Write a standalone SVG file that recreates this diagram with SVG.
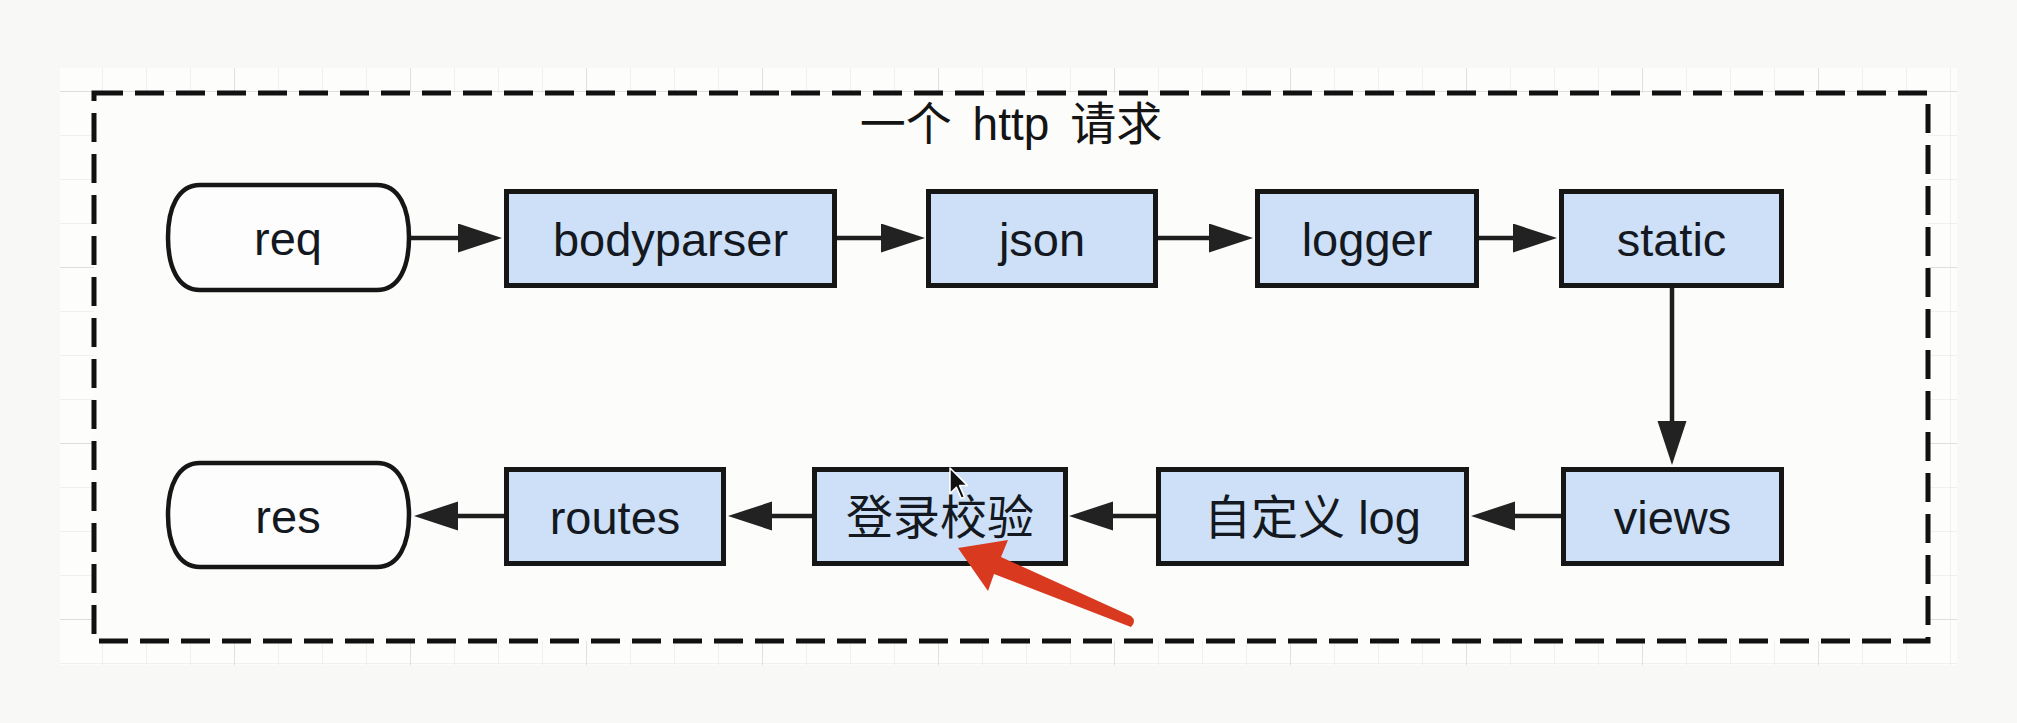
<svg xmlns="http://www.w3.org/2000/svg" width="2017" height="723" viewBox="0 0 2017 723">
  <style>
    .box { fill: #cde0f7; stroke: #161616; stroke-width: 5; }
    .term { fill: #fdfdfd; stroke: #161616; stroke-width: 4.5; }
    .lbl { font-family: "Liberation Sans", "Noto Sans CJK SC", sans-serif; font-size: 47px; fill: #141820; text-anchor: middle; }
    .title { font-family: "Liberation Sans", "Noto Sans CJK SC", sans-serif; font-size: 46px; fill: #141414; text-anchor: middle; word-spacing: 8px; }
    .edge { stroke: #1e1e1e; stroke-width: 4.5; fill: none; marker-end: url(#ah); }
  </style>
  <defs>
    <marker id="ah" markerUnits="userSpaceOnUse" markerWidth="46" markerHeight="31" refX="10" refY="14.5" orient="auto" viewBox="0 0 46 31">
      <path d="M0,0 L44,14.5 L0,29 Z" fill="#222"/>
    </marker>
    <pattern id="gmin" patternUnits="userSpaceOnUse" x="14" y="3" width="44" height="44">
      <path d="M0,0 V44 M0,0 H44" stroke="#ebebeb" stroke-width="1.5" fill="none"/>
    </pattern>
    <pattern id="gmaj" patternUnits="userSpaceOnUse" x="58" y="91" width="176" height="176">
      <path d="M0,0 V176 M0,0 H176" stroke="#dedede" stroke-width="1.8" fill="none"/>
    </pattern>
  </defs>

  <rect x="0" y="0" width="2017" height="723" fill="#f8f8f6"/>
  <g id="grid">
    <rect x="60" y="68" width="1897" height="597" fill="#fdfdfc"/>
    <rect x="60" y="68" width="1897" height="597" fill="url(#gmin)"/>
    <rect x="60" y="68" width="1897" height="597" fill="url(#gmaj)"/>
  </g>

  <g id="container">
    <rect x="94" y="93" width="1834" height="548" fill="#fcfcfb" stroke="#111" stroke-width="5" stroke-dasharray="29 12"/>
    <text class="title" x="1011" y="140">一个 http 请求</text>
  </g>

  <g id="connectors">
    <line class="edge" x1="411" y1="238" x2="468" y2="238"/>
    <line class="edge" x1="837" y1="238" x2="891" y2="238"/>
    <line class="edge" x1="1158" y1="238" x2="1219" y2="238"/>
    <line class="edge" x1="1479" y1="238" x2="1523" y2="238"/>
    <line class="edge" x1="1672" y1="288" x2="1672" y2="431"/>
    <line class="edge" x1="1561" y1="516" x2="1505" y2="516"/>
    <line class="edge" x1="1156" y1="516" x2="1103" y2="516"/>
    <line class="edge" x1="812" y1="516" x2="762" y2="516"/>
    <line class="edge" x1="504" y1="516" x2="448" y2="516"/>
  </g>

  <g id="req">
    <path class="term" d="M200,185 H377 C399,185 409,208 409,237.5 C409,267 399,290 377,290 H200 C178,290 168,267 168,237.5 C168,208 178,185 200,185 Z"/>
    <text class="lbl" x="288" y="255">req</text>
  </g>
  <g id="bodyparser">
    <rect class="box" x="506.5" y="191.5" width="328" height="94"/>
    <text class="lbl" x="670.5" y="256">bodyparser</text>
  </g>
  <g id="json">
    <rect class="box" x="928.5" y="191.5" width="227" height="94"/>
    <text class="lbl" x="1042" y="256">json</text>
  </g>
  <g id="logger">
    <rect class="box" x="1257.5" y="191.5" width="219" height="94"/>
    <text class="lbl" x="1367" y="256">logger</text>
  </g>
  <g id="static">
    <rect class="box" x="1561.5" y="191.5" width="220" height="94"/>
    <text class="lbl" x="1671.5" y="256">static</text>
  </g>

  <g id="res">
    <path class="term" d="M200,463 H377 C399,463 409,486 409,515 C409,544 399,567 377,567 H200 C178,567 168,544 168,515 C168,486 178,463 200,463 Z"/>
    <text class="lbl" x="288" y="533">res</text>
  </g>
  <g id="routes">
    <rect class="box" x="506.5" y="469.5" width="217" height="94"/>
    <text class="lbl" x="615" y="534">routes</text>
  </g>
  <g id="login-check">
    <rect class="box" x="814.5" y="469.5" width="251" height="94"/>
    <text class="lbl" x="940" y="534">登录校验</text>
  </g>
  <g id="custom-log">
    <rect class="box" x="1158.5" y="469.5" width="308" height="94"/>
    <text class="lbl" x="1312.5" y="534">自定义 log</text>
  </g>
  <g id="views">
    <rect class="box" x="1563.5" y="469.5" width="218" height="94"/>
    <text class="lbl" x="1672.5" y="534">views</text>
  </g>

  <g id="annotation">
    <path d="M958,548 L1008,540 L1001,557 L1131,616 Q1137,621 1131,627 L994,574 L988,591 Z" fill="#d8391f"/>
  </g>
  <g id="cursor">
    <path d="M950,468 L950,493.6 L956.4,487.2 L961.2,498.4 L964.4,496.8 L959.6,485.6 L967.6,485.6 Z" fill="#111" stroke="#fff" stroke-width="1.5" stroke-linejoin="round"/>
  </g>
</svg>
